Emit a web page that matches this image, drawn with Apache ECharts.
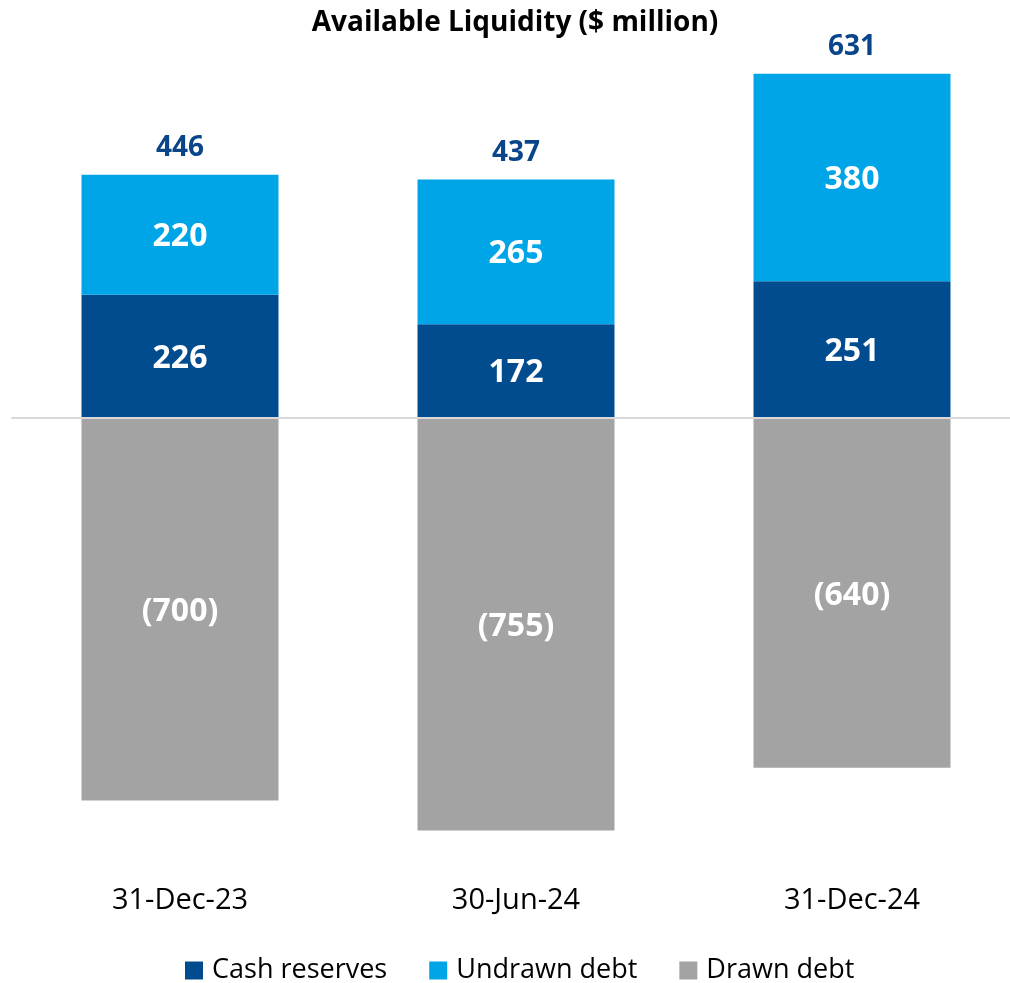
<!DOCTYPE html>
<html>
<head>
<meta charset="utf-8">
<script src="https://cdn.jsdelivr.net/npm/echarts@6/dist/echarts.min.js"></script>
<style>
  html, body { margin: 0; padding: 0; background: #fff; }
  #chart { width: 1010px; height: 983px; }
</style>
</head>
<body>
<div id="chart"></div>
<script>
var categories = ['31-Dec-23', '30-Jun-24', '31-Dec-24'];
var cashReserves = [226, 172, 251];
var undrawnDebt = [220, 265, 380];
var drawnDebt = [-700, -755, -640];

// totals shown above each bar
var totals = cashReserves.map(function (v, i) { return v + undrawnDebt[i]; });

var chartDom = document.getElementById('chart');
var myChart = echarts.init(chartDom);

var font = '"Open Sans", "Noto Sans", sans-serif';

var insideLabel = {
  show: true,
  position: 'inside',
  offset: [0, 2],
  color: '#fff',
  fontFamily: font,
  fontWeight: 'bold',
  fontSize: 32
};

var option = {
  animation: false,
  graphic: [{
    type: 'text',
    x: 515,
    y: 9,
    style: {
      text: 'Available Liquidity ($ million)',
      textAlign: 'center',
      fontFamily: font,
      fontWeight: 'bold',
      fontSize: 28,
      fill: '#000'
    }
  }],
  legend: {
    top: 952,
    left: 180,
    itemWidth: 18,
    itemHeight: 18,
    itemGap: 42,
    icon: 'rect',
    data: ['Cash reserves', 'Undrawn debt', 'Drawn debt'],
    textStyle: { fontFamily: font, fontSize: 27, color: '#000', padding: [0, 0, 0, 4] }
  },
  // grid 0 holds the bars (first/last category on the grid edges),
  // grid 1 only draws the full-width zero line
  grid: [
    { left: 180, top: 36, right: 158, height: 819 },
    { left: 12, top: 36, right: 0, height: 819 }
  ],
  xAxis: [
    {
      type: 'category',
      gridIndex: 0,
      data: categories,
      boundaryGap: false,
      position: 'bottom',
      axisLine: { show: false, onZero: false },
      axisTick: { show: false },
      axisLabel: { margin: 31, fontFamily: font, fontSize: 29, color: '#000' }
    },
    {
      type: 'category',
      gridIndex: 1,
      data: categories,
      z: 10,
      axisLine: { show: true, onZero: true, lineStyle: { color: '#D9D9D9', width: 2 } },
      axisTick: { show: false },
      axisLabel: { show: false }
    }
  ],
  yAxis: [
    { type: 'value', gridIndex: 0, min: -800, max: 700, show: false, splitLine: { show: false } },
    { type: 'value', gridIndex: 1, min: -800, max: 700, show: false, splitLine: { show: false } }
  ],
  series: [
    {
      name: 'Cash reserves',
      type: 'bar',
      stack: 'liq',
      data: cashReserves,
      barWidth: 197,
      itemStyle: { color: '#004C8F' },
      label: insideLabel
    },
    {
      name: 'Undrawn debt',
      type: 'bar',
      stack: 'liq',
      data: undrawnDebt,
      barWidth: 197,
      itemStyle: { color: '#00A5E8' },
      label: insideLabel
    },
    {
      name: 'Drawn debt',
      type: 'bar',
      stack: 'liq',
      data: drawnDebt,
      barWidth: 197,
      itemStyle: { color: '#A3A3A3' },
      label: Object.assign({}, insideLabel, {
        offset: [0, 3],
        formatter: function (p) { return '(' + Math.abs(p.value) + ')'; }
      })
    },
    {
      name: 'Total',
      type: 'scatter',
      data: totals,
      symbolSize: 0,
      itemStyle: { opacity: 1, color: '#0A4589' },
      label: {
        show: true,
        position: 'top',
        distance: 13,
        color: '#0A4589',
        opacity: 1,
        fontFamily: font,
        fontWeight: 'bold',
        fontSize: 28
      }
    }
  ]
};

myChart.setOption(option);
window.addEventListener('resize', () => myChart.resize());
</script>
</body>
</html>
